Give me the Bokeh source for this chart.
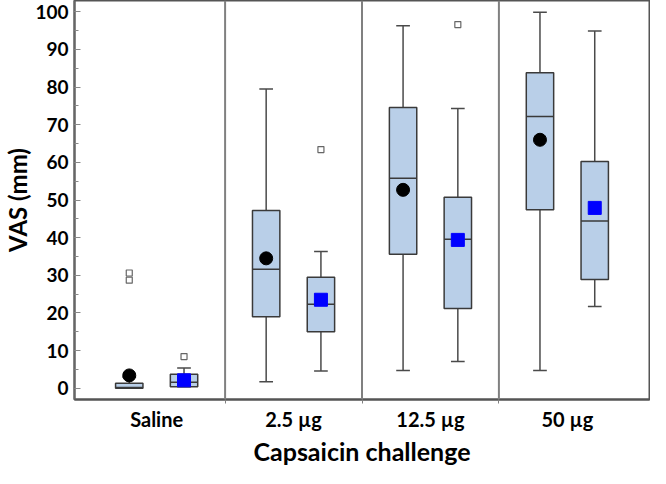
from bokeh.plotting import figure
from bokeh.models import FixedTicker, Span
from bokeh.embed import file_html
from bokeh.resources import INLINE

# ---- data ----
categories = ["Saline", "2.5 µg", "12.5 µg", "50 µg"]

# group A (black circle mean)
a_lower = [0.0, 1.7, 4.7, 4.7]
a_q1 = [0.0, 19.0, 35.6, 47.4]
a_median = [0.2, 31.6, 55.8, 72.2]
a_q3 = [1.3, 47.2, 74.6, 83.8]
a_upper = [3.0, 79.5, 96.3, 99.9]
a_mean = [3.4, 34.5, 52.7, 66.0]
a_out_cat = [0, 0]
a_out_val = [30.6, 28.7]

# group B (blue square mean)
b_lower = [0.4, 4.6, 7.1, 21.7]
b_q1 = [0.4, 15.0, 21.2, 28.9]
b_median = [1.6, 22.3, 39.6, 44.4]
b_q3 = [3.7, 29.5, 50.7, 60.2]
b_upper = [5.4, 36.3, 74.3, 94.9]
b_mean = [2.1, 23.5, 39.4, 47.9]
b_out_cat = [0, 1, 2]
b_out_val = [8.4, 63.4, 96.6]

y_ticks = list(range(0, 101, 10))

FONT = "Lato"
BOX_FILL = "#b9cfe8"
BOX_LINE = "#3a3a3a"
WHISK = "#4a4a4a"

p = figure(width=650, height=468, output_backend="svg", toolbar_location=None,
           x_range=(0.4, 4.6), y_range=(-3, 103),
           min_border_left=60, min_border_right=1, min_border_top=0, min_border_bottom=0)
p.grid.visible = False
p.outline_line_color = "#555555"
p.outline_line_width = 2
p.background_fill_color = "white"

half_box = 0.1
half_cap = 0.05

def draw_group(offset, lower, q1, med, q3, upper, mean, out_cat, out_val, marker, color):
    xs = [i + 1 + offset for i in range(len(categories))]
    # whiskers
    p.segment(x0=xs, y0=q3, x1=xs, y1=upper, line_color=WHISK, line_width=1.5)
    p.segment(x0=xs, y0=q1, x1=xs, y1=lower, line_color=WHISK, line_width=1.5)
    # caps
    x_l = [x - half_cap for x in xs]
    x_r = [x + half_cap for x in xs]
    p.segment(x0=x_l, y0=upper, x1=x_r, y1=upper, line_color=WHISK, line_width=1.5)
    p.segment(x0=x_l, y0=lower, x1=x_r, y1=lower, line_color=WHISK, line_width=1.5)
    # boxes
    p.vbar(x=xs, width=2 * half_box, top=q3, bottom=q1, fill_color=BOX_FILL,
           line_color=BOX_LINE, line_width=1.5)
    # medians
    p.segment(x0=[x - half_box for x in xs], y0=med, x1=[x + half_box for x in xs], y1=med,
              line_color=BOX_LINE, line_width=1.5)
    # means
    p.scatter(x=xs, y=mean, marker=marker, size=13, fill_color=color, line_color=color)
    # outliers
    ox = [c + 1 + offset for c in out_cat]
    p.scatter(x=ox, y=out_val, marker="square", size=6, fill_color="white",
              line_color="#666666", line_width=1.2)

draw_group(-0.2, a_lower, a_q1, a_median, a_q3, a_upper, a_mean, a_out_cat, a_out_val,
           "circle", "black")
draw_group(0.2, b_lower, b_q1, b_median, b_q3, b_upper, b_mean, b_out_cat, b_out_val,
           "square", "#0000ff")

# panel dividers
for xd in [1.5, 2.5, 3.5]:
    p.add_layout(Span(location=xd, dimension="height", line_color="#808080", line_width=2))

# y axis
p.yaxis.ticker = FixedTicker(ticks=y_ticks, minor_ticks=list(range(0, 101, 5)))
p.yaxis.major_tick_in = 6
p.yaxis.major_tick_out = 0
p.yaxis.minor_tick_in = 4
p.yaxis.minor_tick_out = 0
p.yaxis.axis_line_color = "#666666"
p.yaxis.axis_line_width = 2
p.yaxis.major_tick_line_color = "#888888"
p.yaxis.minor_tick_line_color = "#888888"
p.yaxis.axis_label = "VAS (mm)"
p.yaxis.axis_label_text_font = FONT
p.yaxis.axis_label_text_font_style = "bold"
p.yaxis.axis_label_text_font_size = "24px"
p.yaxis.axis_label_text_color = "black"
p.yaxis.axis_label_standoff = 0
p.yaxis.major_label_text_font = FONT
p.yaxis.major_label_text_font_style = "bold"
p.yaxis.major_label_text_font_size = "19px"
p.yaxis.major_label_text_color = "black"
p.yaxis.major_label_standoff = 6

# x axis
p.xaxis.ticker = FixedTicker(ticks=[1, 2, 3, 4], minor_ticks=[1.5, 2.5, 3.5])
p.xaxis.major_label_overrides = {i + 1: c for i, c in enumerate(categories)}
p.xaxis.major_tick_in = 0
p.xaxis.major_tick_out = 0
p.xaxis.minor_tick_in = 0
p.xaxis.minor_tick_out = 4
p.xaxis.minor_tick_line_color = "#808080"
p.xaxis.axis_line_color = "#555555"
p.xaxis.axis_line_width = 2
p.xaxis.axis_label = "Capsaicin challenge"
p.xaxis.axis_label_text_font = FONT
p.xaxis.axis_label_text_font_style = "bold"
p.xaxis.axis_label_text_font_size = "25px"
p.xaxis.axis_label_text_color = "black"
p.xaxis.axis_label_standoff = 2
p.xaxis.major_label_text_font = FONT
p.xaxis.major_label_text_font_style = "bold"
p.xaxis.major_label_text_font_size = "20px"
p.xaxis.major_label_text_color = "black"
p.xaxis.major_label_standoff = 3

open("out.html", "w").write(file_html(p, INLINE))
